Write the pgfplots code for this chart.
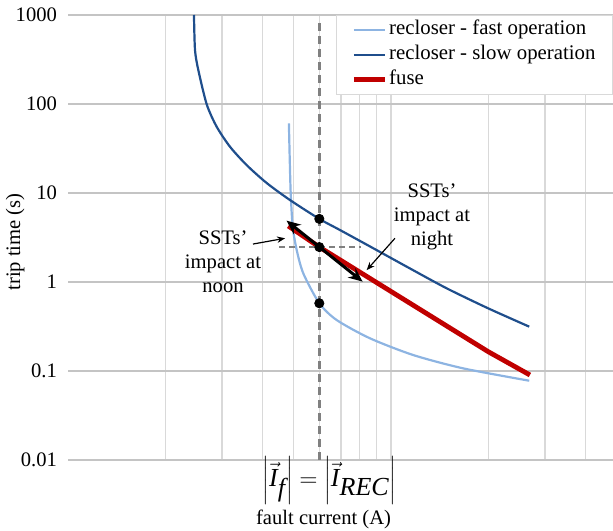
\documentclass[border=0pt]{standalone}
\usepackage{fontspec}
\setmainfont{Liberation Serif}
\usepackage{pgfplots}
\pgfplotsset{compat=1.18}
\usetikzlibrary{arrows.meta}
\definecolor{fastc}{HTML}{8DB4E2}
\definecolor{slowc}{HTML}{1F4E8C}
\definecolor{fusec}{HTML}{C00000}
\definecolor{gridx}{HTML}{D9D9D9}
\definecolor{gridy}{HTML}{C4C4C4}
\begin{document}
\begin{tikzpicture}[font=\fontsize{10.3}{12}\selectfont]
\useasboundingbox (0,0) rectangle (306.5pt,265pt);
\begin{axis}[
  at={(34pt,35pt)}, anchor=south west,
  scale only axis, width=272.5pt, height=222.5pt,
  xmode=log, ymode=log,
  xmin=1, xmax=48.7, ymin=0.01, ymax=1000,
  xtick={10}, xticklabels={},
  minor xtick={2,3,4,5,6,7,8,9,20,30,40},
  ytick={0.01,0.1,1,10,100,1000},
  yticklabels={0.01,0.1,1,10,100,1000},
  yticklabel style={xshift=-2pt},
  major tick length=0pt, minor tick length=0pt,
  xmajorgrids, xminorgrids, ymajorgrids,
  major x grid style={gridx, line width=0.6pt},
  minor x grid style={gridx, line width=0.6pt},
  major y grid style={gridy, line width=0.6pt},
  axis line style={draw=none},
  clip=false,
  xlabel={fault current (A)},
  xlabel style={at={(axis description cs:0.469,0)}, anchor=center, yshift=-29.5pt},
  ylabel={trip time (s)},
  ylabel style={at={(axis description cs:-0.097,0.49)}, anchor=center},
  legend style={at={(rel axis cs:1,1)}, anchor=north east, draw=gridx, fill=white,
    inner xsep=7.6pt, inner ysep=1pt, row sep=0pt,
    font=\fontsize{10.4}{12.5}\selectfont,
    nodes={inner xsep=1pt, inner ysep=1.25pt, text height=7.5pt, text depth=2.5pt}},
  legend cell align=left,
  legend image code/.code={\draw[#1] (0pt,0pt) -- (15.5pt,0pt);},
]
\addplot[fastc, line width=1.1pt, smooth, tension=0.45] coordinates {
 (4.83,60.7) (4.86,23.5) (4.893,9.92) (4.963,4.18) (5.106,2.29) (5.352,1.25)
 (6.0,0.577) (6.79,0.374) (8.61,0.233) (11.73,0.151) (16.75,0.107) (26.8,0.0778)};
\addlegendentry{recloser - fast operation}
\addplot[slowc, line width=1.1pt, smooth, tension=0.45] coordinates {
 (2.455,1000) (2.473,404) (2.532,241) (2.688,99.3) (2.886,55.6) (3.174,33.1)
 (3.574,20.6) (4.123,12.95) (4.867,8.34) (6.0,5.12) (6.95,3.84) (8.61,2.51)
 (11.45,1.42) (14.87,0.85) (20.0,0.506) (26.8,0.315)};
\addlegendentry{recloser - slow operation}
\addplot[fusec, line width=2.4pt] coordinates {
 (4.81,4.26) (6.0,2.47) (20.0,0.165) (26.93,0.0902)};
\addlegendentry{fuse}
% vertical dashed line
\addplot[forget plot, gray, line width=1.5pt, dash pattern=on 4pt off 2.5pt] coordinates {(6,813) (6,0.01)};
% horizontal thin dashed
\addplot[forget plot, gray, line width=0.6pt, dash pattern=on 3pt off 2pt] coordinates {(4.51,2.47) (8.06,2.47)};
% black double arrow
\addplot[forget plot, black, line width=1.5pt, {Stealth[length=7pt,width=6pt]}-{Stealth[length=7pt,width=6pt]}] coordinates {(4.75,4.89) (8.17,1.01)};
% annotation arrows
\addplot[forget plot, black, line width=0.6pt, -{Stealth[length=4pt,width=3.2pt]}] coordinates {(3.74,2.67) (4.70,3.10)};
\addplot[forget plot, black, line width=0.6pt, -{Stealth[length=4pt,width=3.2pt]}] coordinates {(10.29,3.10) (8.41,1.36)};
% dots
\addplot[forget plot, only marks, mark=*, mark size=2.3pt, black] coordinates {(6,5.12) (6,2.47) (6,0.577)};
\node[align=center] at (axis cs:3.02,1.68) {SSTs’\\impact at\\noon};
\node[align=center] at (axis cs:13.4,5.37) {SSTs’\\impact at\\night};
\node[anchor=center, yshift=-10.25pt, inner sep=0pt] at (axis cs:6.45,0.01)
  {\fontsize{13}{15}\selectfont $\biggl|\vec{\textit{I}}_{\textit{f}}\biggr| = \biggl|\vec{\textit{I}}_{\textit{REC}}\biggr|$};
\end{axis}
\end{tikzpicture}
\end{document}
